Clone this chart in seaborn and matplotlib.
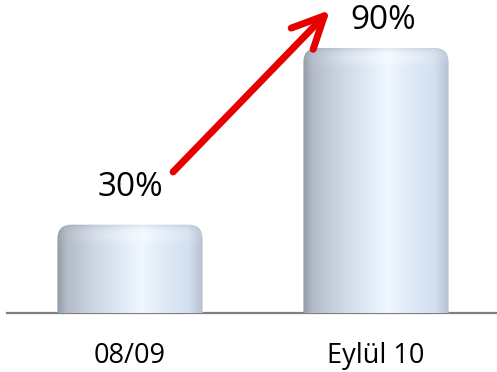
import numpy as np
import matplotlib
matplotlib.use("Agg")
import matplotlib.pyplot as plt
from matplotlib.patches import FancyBboxPatch
import seaborn as sns

categories = ["08/09", "Eylül 10"]
values = [30, 90]
value_labels = ["30%", "90%"]

sns.set_style("white")
plt.rcParams['font.family'] = ['Open Sans', 'DejaVu Sans']

fig = plt.figure(figsize=(4.97, 3.72), dpi=100)
ax = fig.add_axes([7 / 497, 59 / 372, 492 / 497, 313 / 372])

sns.barplot(x=categories, y=values, width=0.59, color="#c8d4e2", ax=ax,
            saturation=1, edgecolor="none")
ax.set_xlim(-0.5, 1.5)
ax.set_ylim(0, 106.3)

for s in ["top", "left", "right"]:
    ax.spines[s].set_visible(False)
ax.spines["bottom"].set_color("#7f7f7f")
ax.spines["bottom"].set_linewidth(1.6)
ax.set_yticks([])
ax.tick_params(axis="x", length=0, pad=21, labelsize=19.5, labelcolor="black")
ax.set_xlabel("")

# horizontal colour profile of the cylinder
stops = np.array([0.0, 0.06, 0.25, 0.45, 0.58, 0.72, 0.9, 1.0])
cols = np.array([
    [0.58, 0.61, 0.65],
    [0.70, 0.73, 0.78],
    [0.80, 0.84, 0.89],
    [0.88, 0.92, 0.97],
    [0.94, 0.97, 1.00],
    [0.88, 0.92, 0.97],
    [0.83, 0.88, 0.94],
    [0.72, 0.76, 0.82],
])

fig.canvas.draw()
px_per_x = ax.transData.transform((1, 0))[0] - ax.transData.transform((0, 0))[0]
px_per_y = ax.transData.transform((0, 1))[1] - ax.transData.transform((0, 0))[1]

for p in ax.patches:
    x0, w = p.get_x(), p.get_width()
    h = p.get_height()
    Wpx = int(round(w * px_per_x))
    Hpx = int(round(h * px_per_y))
    u = np.linspace(0, 1, Wpx)
    prof = np.stack([np.interp(u, stops, cols[:, k]) for k in range(3)], axis=1)
    img = np.tile(prof[None, :, :], (Hpx, 1, 1))
    d = np.arange(Hpx)[:, None]
    # top rim highlight
    cen = np.exp(-((u - 0.55) / 0.35) ** 2)[None, :]
    hl = 0.35 * np.exp(-((d - 11) / 6.0) ** 2) * cen
    img = img + (1 - img) * hl[:, :, None]
    dark = 0.06 * np.exp(-(d / 3.0) ** 2)
    img = img * (1 - dark[:, :, None])
    img = np.clip(img, 0, 1)
    r = 14 / px_per_x
    clip = FancyBboxPatch((x0, -20), w, h + 20,
                          boxstyle=f"round,pad=0,rounding_size={r}",
                          mutation_aspect=px_per_x / px_per_y,
                          transform=ax.transData, facecolor="none",
                          edgecolor="none")
    ax.add_patch(clip)
    im = ax.imshow(img, extent=(x0, x0 + w, 0, h), aspect="auto",
                   interpolation="bilinear", zorder=3)
    im.set_clip_path(clip)
    p.set_visible(False)

ax.set_xlim(-0.5, 1.5)
ax.set_ylim(0, 106.3)

label_dx = [0.0, 0.03]
label_dy = [12.5, 9.5]
for i, (v, t) in enumerate(zip(values, value_labels)):
    ax.text(i + label_dx[i], v + label_dy[i], t, ha="center", va="center",
            fontsize=24, color="black", zorder=5)

ax.annotate("", xy=(0.813, 102.9), xytext=(0.175, 47.9),
            arrowprops=dict(arrowstyle="->,head_length=1.15,head_width=0.55",
                            color="#e60000", lw=5, mutation_scale=20,
                            shrinkA=0, shrinkB=0),
            zorder=6, annotation_clip=False)

fig.savefig("out.png", dpi=100)
